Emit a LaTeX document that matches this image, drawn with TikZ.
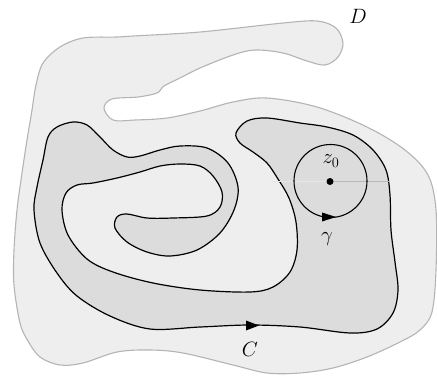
\documentclass[tikz,border=0pt]{standalone}
\usetikzlibrary{arrows.meta}
\definecolor{dfill}{HTML}{EEEEEE}
\definecolor{dline}{HTML}{B4B4B4}
\definecolor{cfill}{HTML}{DCDCDC}
\definecolor{gline}{HTML}{B8B8B8}
\definecolor{lline}{HTML}{E6E6E6}
\tikzset{
  domainD/.style={fill=dfill, draw=dline, line width=1.1pt},
  curveC/.style={fill=cfill, draw=black, line width=1.2pt},
  tipfill/.style={fill=black},
  lbl/.style={inner sep=0pt, font=\fontsize{22}{26}\selectfont}
}
\begin{document}
\begin{tikzpicture}[x=1pt,y=-1pt]
\useasboundingbox (0,0) rectangle (437,376);
% domain D
\path[domainD] plot[smooth cycle, tension=0.55] coordinates {
 (104,108) (112,99) (138,97) (157,93) (164,86) (180,78) (200,68) (233,55) (255,50)
 (283,53) (307,61) (325,65) (338,57) (343,43) (336,28) (317,21) (283,23)
 (200,32) (133,36) (117,37) (83,38) (60,47) (43,63) (36,85) (32,110) (27,140)
 (22,173) (17,210) (14,250) (14,285) (20,323) (28,341) (40,357) (60,365)
 (83,363) (117,352) (150,350) (183,353) (233,365) (267,373) (300,373)
 (333,368) (367,357) (400,342) (420,330) (432,312) (436,270) (436,210)
 (428,175) (405,150) (367,127) (317,107) (267,98) (233,102) (200,111)
 (167,118) (135,120) (113,120)};
% curve C
\path[curveC] plot[smooth cycle, tension=0.55] coordinates {
 (250,325) (300,327) (350,333) (377,329) (393,313) (398,290) (395,262)
 (391,230) (390,195) (386,170) (373,150) (353,135) (327,127) (300,123)
 (267,118) (247,121) (236,133) (240,143) (253,152) (267,163) (278,179)
 (289,198) (296,222) (297,250) (290,272) (273,287) (250,292) (200,290)
 (153,283) (113,272) (87,259) (68,235) (62,210) (66,193) (77,185) (93,183)
 (117,178) (140,172) (160,166) (180,164) (200,166) (213,176) (222,192)
 (220,207) (207,216) (173,218) (147,218) (127,214) (117,217) (115,228)
 (127,242) (147,252) (170,256) (197,250) (220,233) (234,210) (238,187)
 (228,163) (207,148) (180,146) (160,150) (140,156) (127,157) (113,150)
 (100,137) (87,125) (73,122) (57,127) (48,137) (43,160) (37,187) (34,210)
 (40,243) (57,273) (77,296) (110,316) (150,329) (200,327)};
% z0 and circle gamma
\coordinate (zc) at (330,181.5);
\coordinate (lend) at (271,181.5);
\coordinate (rend) at (390,181.5);
\draw[lline, line width=1.4pt] (lend) -- (zc);
\draw[gline, line width=1.1pt] (zc) -- (rend);
\node (gam) at (330.5,181) [circle, draw=black, line width=1.1pt, minimum size=73pt, inner sep=0pt] {};
\node (z0) at (zc) [circle, fill=black, inner sep=0pt, minimum size=7pt] {};
% arrowheads
\fill[tipfill] (246,320.5) -- (259,325.5) -- (246,330.5) -- cycle;
\fill[tipfill] (322,212.5) -- (336,217) -- (322,221.5) -- cycle;
% labels
\node[lbl] (labD) at (358,16) {$D$};
\node[lbl] (labz) at (331,161) {$z_0$};
\node[lbl] (labg) at (327,239) {$\gamma$};
\node[lbl] (labC) at (250,349) {$C$};
\end{tikzpicture}
\end{document}
